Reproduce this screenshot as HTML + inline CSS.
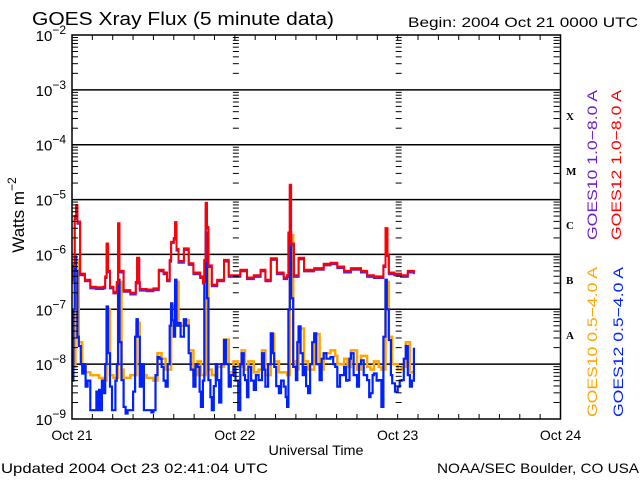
<!DOCTYPE html>
<html><head><meta charset="utf-8"><style>
html,body{margin:0;padding:0;background:#fff;}
svg{display:block;font-family:"Liberation Sans",sans-serif;}
</style></head><body>
<svg id="chart" width="640" height="480" viewBox="0 0 640 480" xmlns="http://www.w3.org/2000/svg">
<rect x="0" y="0" width="640" height="480" fill="#fff"/>
<text x="32" y="25" font-size="18" textLength="302" lengthAdjust="spacingAndGlyphs">GOES Xray Flux (5 minute data)</text>
<text x="408" y="27" font-size="14" textLength="230" lengthAdjust="spacingAndGlyphs">Begin:  2004 Oct 21 0000 UTC</text>
<g id="grid"></g>
<g id="series"></g>
<g id="axes"></g>
<g transform="translate(24,215) rotate(-90)">
<text x="0" y="0" font-size="17" text-anchor="middle">Watts m<tspan font-size="12" dy="-8">−2</tspan></text></g>
<text x="316" y="455" font-size="14" text-anchor="middle" textLength="95" lengthAdjust="spacingAndGlyphs">Universal Time</text>
<text x="1" y="473" font-size="14" textLength="267" lengthAdjust="spacingAndGlyphs">Updated 2004 Oct 23 02:41:04 UTC</text>
<text x="639" y="473" font-size="14" text-anchor="end" textLength="202" lengthAdjust="spacingAndGlyphs">NOAA/SEC Boulder, CO USA</text>
<g font-family="Liberation Serif,serif" font-weight="bold" font-size="11">
<text x="566" y="120">X</text>
<text x="566" y="175">M</text>
<text x="566" y="229">C</text>
<text x="566" y="284">B</text>
<text x="566" y="339">A</text>
</g>
<g font-size="14">
<text transform="translate(597,240) rotate(-90)" fill="#6a1fc8" textLength="150" lengthAdjust="spacingAndGlyphs">GOES10 1.0−8.0 A</text>
<text transform="translate(621,240) rotate(-90)" fill="#ff0000" textLength="150" lengthAdjust="spacingAndGlyphs">GOES12 1.0−8.0 A</text>
<text transform="translate(597,417) rotate(-90)" fill="#ffa500" textLength="150" lengthAdjust="spacingAndGlyphs">GOES10 0.5−4.0 A</text>
<text transform="translate(623,417) rotate(-90)" fill="#0022ff" textLength="150" lengthAdjust="spacingAndGlyphs">GOES12 0.5−4.0 A</text>
</g>
</svg>
<script>
// hours since Oct 21 00:00 UTC, values as log10(W/m^2)
const longHours = [0,0.1,0.4,0.6,0.8,1.2,1.9,2.7,3.5,4.6,4.9,5.1,5.3,5.6,6.1,6.6,6.8,7.0,7.6,8.6,9.4,9.6,9.9,10.0,11.0,12.0,12.8,13.5,14.0,14.4,14.6,15.0,15.2,15.4,15.7,16.5,17.2,17.9,18.9,19.3,19.5,19.7,19.9,20.1,20.6,21.4,22.4,23.1,23.8,24.8,25.8,26.8,27.8,28.5,29.3,30.2,31.2,31.7,31.9,32.1,32.3,32.7,33.4,34.2,35.7,37.1,38.1,39.1,40.1,41.1,42.6,43.5,44.5,45.5,45.9,46.2,46.5,46.7,47.5,48.5,49.5,50.4];
const goes12Long = [-6.45,-6.2,-5.3,-5.1,-5.4,-6.35,-6.46,-6.59,-6.6,-6.59,-6.4,-5.8,-6.3,-6.59,-6.68,-6.5,-5.43,-6.3,-6.65,-6.7,-6.5,-6.06,-6.5,-6.63,-6.64,-6.62,-6.28,-6.33,-6.46,-6.1,-5.77,-5.7,-5.41,-5.9,-6.12,-5.89,-6.16,-6.33,-6.4,-6.5,-6.1,-5.06,-5.5,-6.2,-6.55,-6.46,-6.1,-6.38,-6.38,-6.28,-6.42,-6.38,-6.28,-6.46,-6.07,-6.33,-6.42,-6.38,-5.6,-4.73,-5.8,-6.38,-6.06,-6.28,-6.25,-6.17,-6.15,-6.22,-6.3,-6.25,-6.3,-6.38,-6.4,-6.4,-6.2,-5.52,-6.0,-6.33,-6.35,-6.38,-6.3,-6.33];
const goes10Long = [-6.48,-6.23,-5.35,-5.14,-5.44,-6.38,-6.49,-6.62,-6.63,-6.62,-6.43,-5.82,-6.33,-6.62,-6.71,-6.53,-5.45,-6.33,-6.68,-6.73,-6.53,-6.08,-6.53,-6.66,-6.67,-6.65,-6.31,-6.36,-6.49,-6.13,-5.79,-5.73,-5.43,-5.93,-6.15,-5.92,-6.19,-6.36,-6.43,-6.53,-6.13,-5.08,-5.53,-6.23,-6.58,-6.49,-6.13,-6.41,-6.41,-6.31,-6.45,-6.41,-6.31,-6.49,-6.1,-6.36,-6.45,-6.41,-5.63,-4.75,-5.83,-6.41,-6.09,-6.31,-6.28,-6.2,-6.18,-6.25,-6.33,-6.28,-6.33,-6.41,-6.43,-6.43,-6.23,-5.55,-6.03,-6.36,-6.38,-6.41,-6.33,-6.36];
const goes10ShortHours = [0,0.1,0.5,1.0,1.5,2.0,2.7,3.5,4.0,4.6,5.1,5.6,6.1,6.8,7.3,7.6,8.6,9.5,10.0,11.0,12.0,12.6,13.2,13.8,14.6,15.2,15.7,16.5,17.2,17.9,18.5,19.0,19.7,20.1,20.6,21.4,22.4,23.1,23.8,24.5,25.0,25.5,26.0,26.8,27.5,28.0,28.5,29.3,29.8,30.5,31.2,31.7,32.1,32.6,33.0,33.4,34.2,34.8,35.7,36.5,37.1,38.1,38.8,39.1,40.1,40.6,41.1,42.0,42.6,43.5,44.0,44.5,45.2,45.6,46.2,46.7,47.2,48.0,48.6,49.2,49.8,50.4];
const goes10Short = [-8.0,-8.05,-6.1,-7.6,-8.0,-8.15,-8.2,-8.2,-8.25,-8.3,-7.0,-8.2,-8.25,-6.5,-8.1,-8.25,-8.2,-7.25,-8.2,-8.25,-8.3,-7.8,-7.9,-8.1,-6.95,-6.5,-7.3,-7.2,-7.75,-8.2,-7.95,-8.2,-5.65,-8.1,-8.2,-8.05,-7.55,-8.15,-7.95,-8.05,-7.75,-8.1,-7.95,-8.15,-8.1,-7.75,-8.2,-7.45,-7.95,-8.15,-8.15,-8.2,-5.65,-7.95,-8.1,-7.35,-7.95,-8.1,-7.45,-8.1,-7.8,-7.75,-7.85,-8.0,-7.9,-8.05,-7.75,-8.1,-7.85,-8.05,-8.1,-7.95,-8.05,-8.1,-6.5,-7.5,-8.0,-8.1,-8.05,-7.6,-8.15,-8.15];
const goes12ShortHours = [0,0.2,0.4,0.6,0.8,1.0,1.3,1.5,1.8,2.0,2.3,2.7,3.0,3.3,3.6,3.8,4.0,4.2,4.4,4.6,4.9,5.1,5.3,5.6,5.9,6.1,6.4,6.6,6.8,7.0,7.3,7.6,7.9,8.2,8.6,9.0,9.3,9.5,9.7,10.0,10.3,10.6,11.0,11.4,11.7,12.0,12.3,12.6,12.9,13.2,13.5,13.8,14.1,14.4,14.6,14.8,15.0,15.2,15.4,15.7,16.0,16.5,16.8,17.2,17.5,17.9,18.2,18.5,18.8,19.0,19.3,19.5,19.7,19.9,20.1,20.4,20.6,20.9,21.2,21.4,21.7,22.0,22.4,22.7,23.1,23.4,23.8,24.1,24.5,24.8,25.0,25.3,25.5,25.8,26.0,26.4,26.8,27.1,27.5,28.0,28.3,28.5,28.9,29.3,29.6,29.8,30.1,30.5,30.8,31.2,31.5,31.7,31.9,32.1,32.3,32.6,33.0,33.2,33.4,33.7,34.0,34.2,34.5,34.8,35.1,35.4,35.7,36.0,36.5,36.8,37.1,37.5,38.1,38.5,38.8,39.1,39.5,40.1,40.4,40.6,40.9,41.1,41.5,42.0,42.3,42.6,43.0,43.5,43.8,44.0,44.3,44.5,44.9,45.2,45.6,45.9,46.2,46.4,46.7,47.0,47.2,47.6,48.0,48.3,48.6,48.9,49.2,49.5,49.8,50.1,50.4];
const goes12Short = [-8.3,-7.0,-6.04,-6.3,-7.5,-7.67,-8.0,-8.17,-8.0,-8.41,-8.3,-8.84,-8.84,-8.84,-8.5,-8.84,-8.47,-8.84,-8.3,-8.53,-8.0,-6.95,-7.8,-8.41,-8.84,-8.84,-8.3,-8.0,-6.46,-7.6,-8.29,-8.78,-8.9,-8.84,-8.84,-8.5,-7.5,-7.18,-7.5,-8.41,-8.0,-8.84,-8.84,-8.84,-8.88,-8.84,-8.2,-7.87,-7.9,-8.05,-8.3,-8.41,-8.0,-7.3,-6.89,-7.2,-7.5,-6.46,-7.3,-7.25,-7.5,-7.18,-7.3,-7.8,-8.1,-8.41,-8.0,-8.05,-8.5,-8.78,-8.3,-6.5,-5.6,-6.8,-8.29,-8.6,-8.84,-8.4,-8.0,-8.29,-8.7,-8.0,-7.56,-8.0,-8.41,-8.2,-8.05,-8.3,-8.84,-8.0,-7.8,-8.2,-8.29,-8.6,-8.05,-8.3,-8.47,-8.2,-8.29,-7.8,-8.1,-8.41,-8.0,-7.44,-7.8,-8.05,-8.4,-8.53,-8.3,-8.41,-8.6,-8.78,-7.0,-5.6,-6.8,-8.05,-8.29,-7.6,-7.31,-7.8,-8.2,-8.05,-8.4,-8.53,-8.0,-7.6,-7.44,-8.0,-8.29,-7.9,-7.8,-7.9,-7.87,-8.0,-8.05,-8.41,-8.2,-8.05,-8.3,-8.29,-7.9,-7.8,-8.2,-8.41,-8.0,-7.93,-8.2,-8.29,-8.6,-8.53,-8.2,-8.17,-8.3,-8.29,-8.78,-7.5,-6.46,-7.0,-7.56,-8.2,-8.35,-8.5,-8.41,-8.3,-8.29,-7.9,-7.67,-8.2,-8.41,-8.3,-7.7];
const dayLabels = ["Oct 21","Oct 22","Oct 23","Oct 24"];
const decadeLabels = [-9,-8,-7,-6,-5,-4,-3,-2];

const NS="http://www.w3.org/2000/svg";
const X0=72,X1=560.5,Y0=419,Y1=35;
function xs(h){return X0+h*(X1-X0)/72;}
function ys(l){return Y0-(l+9)*(Y0-Y1)/7;}
function mk(tag,attrs,parent){const e=document.createElementNS(NS,tag);for(const k in attrs)e.setAttribute(k,attrs[k]);parent.appendChild(e);return e;}
const grid=document.getElementById('grid'),axes=document.getElementById('axes'),ser=document.getElementById('series');

decadeLabels.forEach(d=>{
  const y=ys(d);
  if(d>-9&&d<-2){const g=mk('line',{x1:X0,x2:X1,y1:y,y2:y,stroke:'#000','stroke-width':1.5},grid);
    
    }
  const t=mk('text',{x:66,y:y+6,'font-size':15,'text-anchor':'end'},axes);
  
  
  t.innerHTML='10<tspan font-size="12" dy="-7">−'+(-d)+'</tspan>';
  if(d<-2){for(let k=2;k<=9;k++){const yy=ys(d+Math.log10(k));
    [X0,X1-7,xs(24)-2,xs(48)-2].forEach(xx=>{const m=mk('line',{x1:xx,x2:xx+6,y1:yy,y2:yy,stroke:'#000','stroke-width':1},axes);
      
      });}}
});
for(let h=0;h<=72;h+=3){const x=xs(h);
  const a=mk('line',{x1:x,x2:x,y1:Y0,y2:Y0-5,stroke:'#000'},axes);
  
  
  const b=mk('line',{x1:x,x2:x,y1:Y1,y2:Y1+5,stroke:'#000'},axes);
  
  }
dayLabels.forEach((s,i)=>{const t=mk('text',{x:xs(i*24),y:440,'font-size':14,'text-anchor':'middle'},axes);
  t.textContent=s;
  
  });
const frame=mk('rect',{x:X0,y:Y1,width:X1-X0,height:Y0-Y1,fill:'none',stroke:'#000','stroke-width':1.5},axes);



function drawSeries(hours,vals,color,name,w){
  let d='';
  hours.forEach((h,i)=>{const x=xs(h).toFixed(1),y=ys(vals[i]).toFixed(1);
    if(i===0)d+='M'+x+','+y;else d+='H'+x+'V'+y;});
  const p=mk('path',{d:d,fill:'none',stroke:color,'stroke-width':w,'stroke-linejoin':'miter'},ser);
  
  
}
drawSeries(goes10ShortHours,goes10Short,'#ffa500','series-goes10-short',2.5);
drawSeries(goes12ShortHours,goes12Short,'#0022ff','series-goes12-short',2.2);
drawSeries(longHours,goes10Long,'#6a1fc8','series-goes10-long',2);
drawSeries(longHours,goes12Long,'#ff0000','series-goes12-long',2);
</script>
</body></html>
